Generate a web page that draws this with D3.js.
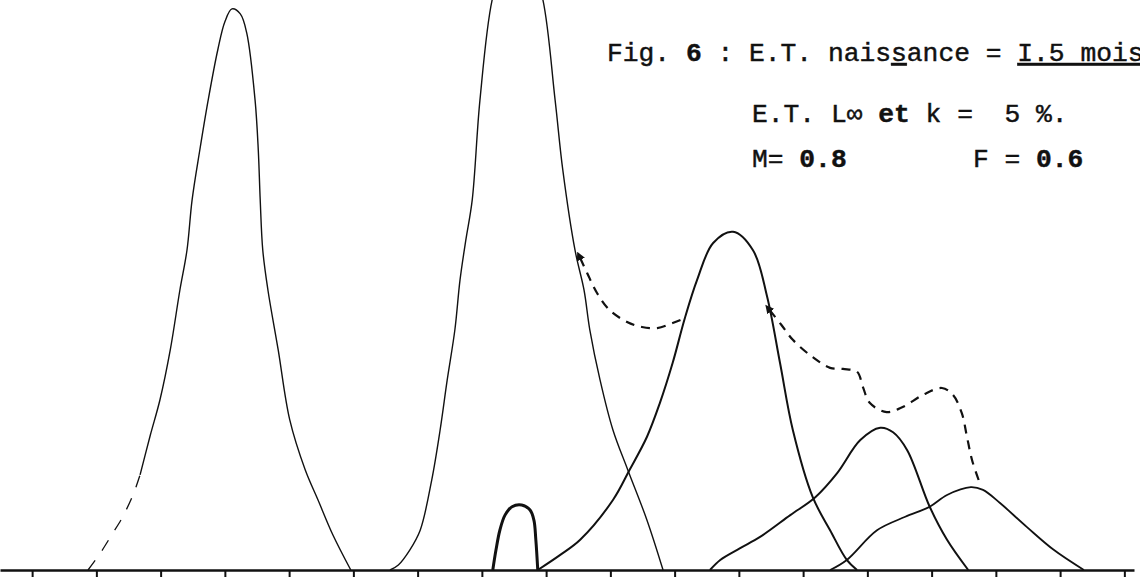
<!DOCTYPE html>
<html>
<head>
<meta charset="utf-8">
<script src="https://cdn.jsdelivr.net/npm/d3@7"></script>
<style>
    body { margin: 0; background: white; }
    svg { display: block; overflow: hidden; background: white; }
    .txt text { font-family: "Liberation Mono", "DejaVu Sans Mono", monospace; font-size: 26.3px; fill: #111;
        stroke: #111; stroke-width: 0.45px; white-space: pre; }
</style>
</head>
<body>
<svg id="chart" width="1140" height="577"></svg>
<script>
// one tick per length class
const xTicks = d3.range(0, 18);

// cohort curves as [length class, frequency]
const cohort1 = [[1.68,17.0],[1.84,24.1],[1.99,30.4],[2.15,39.3],[2.30,50.0],[2.41,57.1],[2.49,66.1],[2.61,75.0],
    [2.74,83.9],[2.89,92.9],[3.00,97.9],[3.11,100.2],[3.24,99.3],[3.34,95.9],[3.47,83.9],[3.52,75.0],[3.55,66.1],
    [3.59,57.1],[3.67,50.0],[3.83,39.3],[4.01,26.8],[4.25,17.9],[4.45,12.5],[4.68,6.3],[4.96,0]];
// faint left tail of the first cohort
const cohort1Tail = [[0.87,0],[1.06,3.0],[1.24,6.3],[1.40,9.3],[1.57,13.4],[1.68,17.0]];
const cohort2 = [[5.57,0],[5.70,0.9],[5.88,3.6],[6.04,7.1],[6.22,16.1],[6.35,25.0],[6.46,33.9],[6.58,42.9],
    [6.66,51.8],[6.75,58.9],[6.85,66.1],[6.97,83.9],[7.16,101.8],[7.36,109],[7.55,110.7],[7.75,109],[7.95,101.8],
    [8.14,83.9],[8.26,71.4],[8.45,57.1],[8.59,50.0],[8.68,42.9],[8.84,33.9],[9.04,25.0],[9.27,17.9],[9.57,8.9],[9.82,0]];
const cohort3 = [[7.17,0],[7.22,3.6],[7.28,7.1],[7.36,9.8],[7.47,11.3],[7.62,11.6],[7.75,10.7],[7.81,8.9],[7.84,5.4],[7.87,0]];
const cohort4 = [[7.87,0],[8.22,2.7],[8.53,5.4],[9.04,12.5],[9.30,17.9],[9.57,23.8],[9.77,29.8],[9.97,37.0],
    [10.16,45.0],[10.35,51.8],[10.60,58.4],[10.91,60.4],[11.22,57.1],[11.44,48.8],[11.64,37.0],[11.84,25.0],
    [12.15,13.0],[12.42,7.1],[12.68,1.8],[12.84,0]];
const cohort5 = [[10.55,0],[10.71,1.8],[11.02,3.9],[11.33,5.9],[11.80,9.8],[12.19,13.0],[12.53,17.3],[12.89,23.2],
    [13.20,25.4],[13.40,24.6],[13.62,21.4],[13.97,11.3],[14.24,5.4],[14.57,0]];
const cohort6 = [[12.42,0],[12.68,1.8],[13.15,7.1],[13.59,9.5],[13.97,11.3],[14.24,13.4],[14.61,14.8],[14.80,14.3],
    [15.06,12.0],[15.48,7.7],[15.90,3.6],[16.37,0]];

// dashed envelope (sum of cohorts) where they overlap
const sumA = [[8.53,55.7],[8.64,53.0],[8.79,49.5],[8.99,46.4],[9.26,44.3],[9.49,43.4],[9.73,43.2],[9.97,44.1],[10.16,45.0]];
const sumB = [[11.48,46.4],[11.66,43.8],[11.84,41.1],[12.15,38.0],[12.42,36.1],[12.62,35.9],[12.84,35.4],[12.93,32.7],
    [13.04,29.8],[13.30,28.2],[13.55,29.1],[13.87,31.3],[14.16,32.5],[14.33,31.3],[14.47,28.0],[14.55,23.8],
    [14.63,19.6],[14.75,15.5]];

// caption lines
const title = ["Fig. ", "6", " : E.T. nais", "s", "ance = ", "I.5 mois"];
const note1 = ["E.T. L", "\u221e", " ", "et", " k =  5 %."];
const note2 = ["M= ", "0.8", "        F = ", "0.6"];

let svg = d3.select("#chart");

let x = d3.scaleLinear().domain([-0.5, 17.15]).range([0, 1134]);
let y = d3.scaleLinear().domain([0, 100]).range([570, 10]);

// arrow head where the dashed line leaves a curve
svg.append("defs").append("marker")
    .attr("id", "head")
    .attr("viewBox", "0 0 10 10")
    .attr("refX", 2).attr("refY", 5)
    .attr("markerWidth", 4).attr("markerHeight", 4)
    .attr("orient", "auto-start-reverse")
    .append("path")
    .attr("d", "M0,0 L10,5 L0,10 z")
    .style("fill", "#111");

// axis with ticks only
let axis = svg.append("g")
    .attr("transform", "translate(0,570)")
    .call(d3.axisBottom(x).tickValues(xTicks).tickSizeInner(8).tickSizeOuter(0).tickFormat(""));
axis.select(".domain").style("stroke", "#111").style("stroke-width", "2.5px");
axis.selectAll(".tick line").style("stroke", "#111").style("stroke-width", "2px");

let line = d3.line()
    .x(d => x(d[0]))
    .y(d => y(d[1]))
    .curve(d3.curveCatmullRom.alpha(0.5));

const curves = [
    {data: cohort1, w: 1.4},
    {data: cohort1Tail, w: 1.3, dash: "12,12"},
    {data: cohort2, w: 1.4},
    {data: cohort3, w: 3},
    {data: cohort4, w: 2},
    {data: cohort5, w: 2},
    {data: cohort6, w: 1.8},
];

curves.forEach(function(c){
    svg.append("path")
        .attr("d", line(c.data))
        .style("fill", "none")
        .style("stroke", "#111")
        .style("stroke-width", c.w + "px")
        .style("stroke-dasharray", c.dash || null);
});

[sumA, sumB].forEach(function(s){
    svg.append("path")
        .attr("d", line(s))
        .attr("marker-start", "url(#head)")
        .style("fill", "none")
        .style("stroke", "#111")
        .style("stroke-width", "2.2px")
        .style("stroke-dasharray", "9,7");
});

// caption, typewriter style
let notes = svg.append("g").attr("class", "txt");

function writeLine(parts, px, py, bold, under){
    let t = notes.append("text")
        .attr("x", px).attr("y", py)
        .attr("xml:space", "preserve");
    parts.forEach(function(p, i){
        let ts = t.append("tspan").attr("xml:space", "preserve").text(p);
        if (bold.indexOf(i) >= 0) ts.style("font-weight", "bold");
        if (under.indexOf(i) >= 0) ts.style("text-decoration", "underline");
    });
}

writeLine(title, 607, 61, [1], [3, 5]);
writeLine(note1, 752, 122, [3], []);
writeLine(note2, 752, 167, [1, 3], []);
</script>
</body>
</html>
